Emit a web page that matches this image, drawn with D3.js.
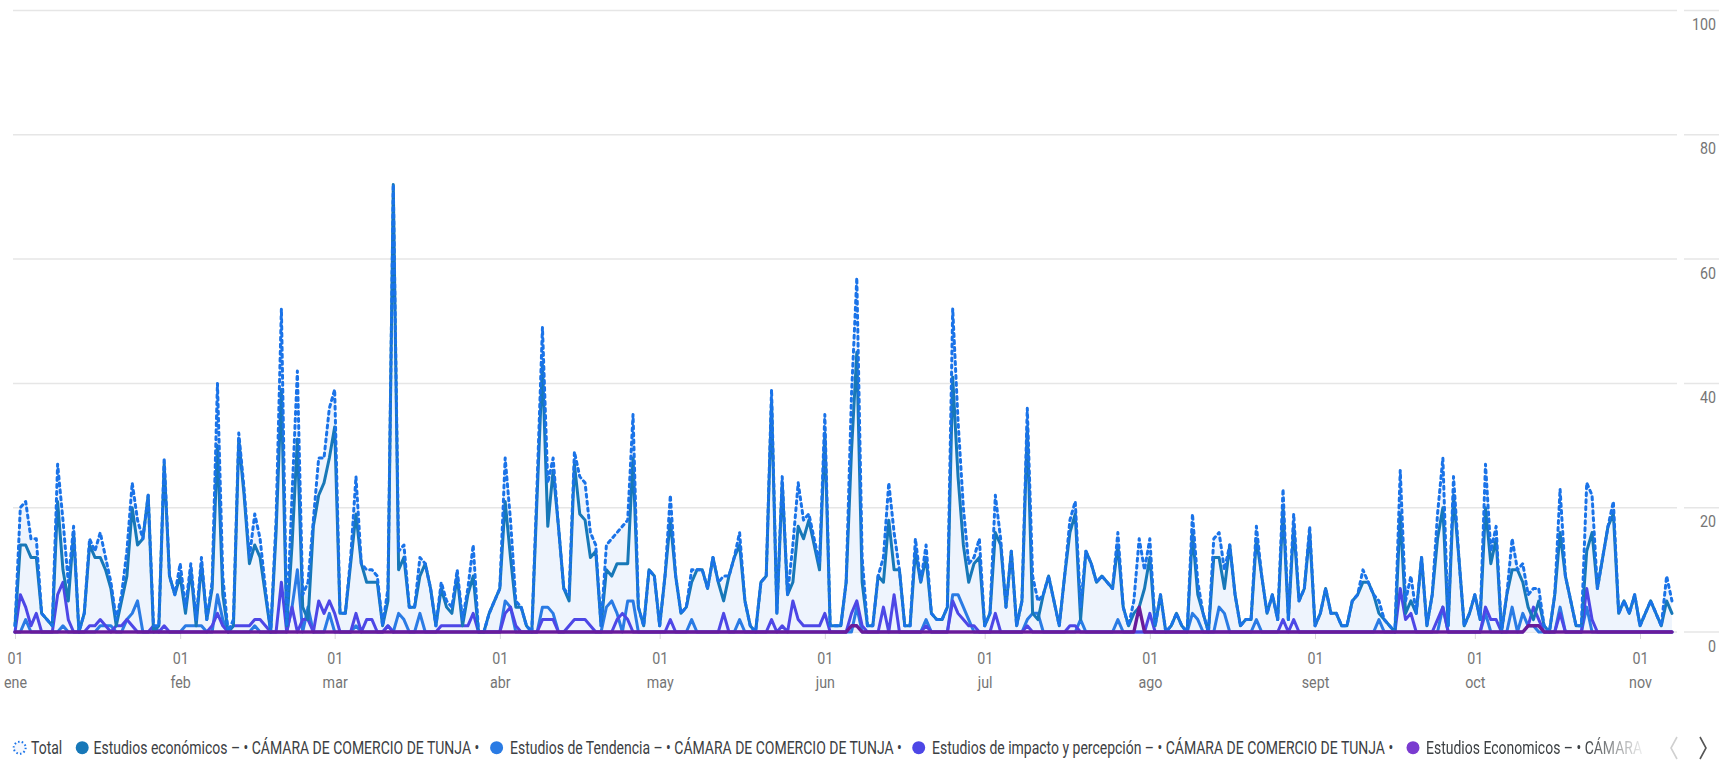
<!DOCTYPE html>
<html>
<head>
<meta charset="utf-8">
<script src="https://cdn.jsdelivr.net/npm/d3@7"></script>
<style>
  html, body { margin: 0; padding: 0; background: #fff; }
  svg { display: block; }
  text { font-family: Roboto, "Noto Sans", sans-serif; }
</style>
</head>
<body>
<svg id="chart" width="1719" height="761"></svg>
<script>
// Daily counts, 1 Jan 2024 onwards
const startUTC = Date.UTC(2024, 0, 1);

const total = [
  1,20,21,15,15,3,2,1,27,18,
  8,17,0,3,15,13,16,12,8,2,
  6,13,24,18,15,22,1,1,28,9,
  6,11,4,11,2,12,2,8,40,9,
  0,2,32,23,12,19,15,7,0,18,
  52,1,22,42,6,8,18,28,28,36,
  39,3,3,12,25,11,10,10,9,1,
  7,72,13,14,4,4,12,11,7,1,
  8,5,4,10,2,7,14,0,0,3,
  5,7,28,18,5,4,1,0,24,49,
  24,28,17,7,6,29,25,24,16,14,
  1,14,15,16,17,18,35,4,1,10,
  9,1,9,22,9,3,4,10,10,10,
  7,12,8,9,9,12,16,5,1,0,
  8,9,39,3,25,6,14,24,18,19,
  15,11,35,1,1,1,8,38,57,12,
  1,1,9,12,24,16,10,1,1,15,
  8,14,3,2,2,4,52,34,20,11,
  12,15,1,3,22,15,4,13,1,5,
  36,9,5,6,9,5,1,9,18,21,
  4,13,11,8,9,8,7,16,4,1,
  5,15,10,15,1,6,0,1,3,1,
  0,19,8,3,0,15,16,10,14,6,
  1,2,2,17,9,3,6,2,23,2,
  19,5,7,17,1,3,7,3,3,1,
  1,5,6,10,8,6,5,2,1,0,
  26,5,9,3,12,1,6,19,28,1,
  25,12,1,3,6,2,27,13,17,0,
  6,15,10,11,6,7,7,1,0,6,
  23,9,5,1,1,24,22,7,12,17,
  21,3,5,3,6,1,3,5,3,1,
  9,5
];

const estudiosEconomicos = [
  1,14,14,12,12,3,2,1,21,10,
  5,16,0,3,14,12,12,10,7,1,
  5,9,20,14,15,22,0,1,27,9,
  6,9,3,10,1,11,2,7,30,6,
  0,1,31,22,11,14,12,6,0,16,
  39,1,14,31,4,2,17,22,24,28,
  33,3,3,11,19,11,8,8,8,1,
  5,72,10,12,4,4,9,11,7,1,
  7,4,3,9,1,6,9,0,0,3,
  5,7,21,12,4,4,1,0,22,43,
  17,26,17,7,5,27,19,18,12,13,
  1,10,9,11,11,11,28,4,1,10,
  9,1,9,18,9,3,4,8,10,10,
  7,12,8,5,9,12,14,5,1,0,
  8,9,37,3,24,6,8,17,15,18,
  14,10,32,1,1,1,8,29,45,8,
  1,1,9,8,18,10,10,1,1,13,
  8,12,3,2,2,4,41,25,14,8,
  11,12,1,3,16,14,4,13,1,5,
  33,3,2,6,9,5,1,9,16,19,
  2,13,11,8,9,8,7,14,4,1,
  3,4,7,12,1,6,0,1,3,1,
  0,16,6,3,0,12,12,7,14,6,
  1,2,2,15,9,3,6,2,20,2,
  17,5,7,16,1,3,7,3,3,1,
  1,5,6,8,8,6,3,2,1,0,
  19,3,5,3,12,1,6,15,20,1,
  22,12,1,3,6,2,20,11,15,0,
  6,10,10,8,4,2,5,1,0,6,
  16,9,5,1,1,13,16,7,12,17,
  19,3,5,3,6,1,3,5,3,1,
  5,3
];

const estudiosTendencia = [
  0,0,2,0,0,0,0,0,0,1,
  0,0,0,0,0,0,1,1,1,0,
  0,2,3,5,0,0,0,0,0,0,
  0,0,1,1,1,1,0,0,6,2,
  0,0,0,0,0,1,0,0,0,0,
  0,0,4,10,0,4,0,0,0,3,
  0,0,0,0,1,0,0,0,0,0,
  1,0,3,2,0,0,3,0,0,0,
  0,0,0,0,0,0,0,0,0,0,
  0,0,5,4,0,0,0,0,0,4,
  4,3,0,0,0,0,0,0,0,0,
  0,4,5,3,0,5,5,0,0,0,
  0,0,0,0,0,0,0,2,0,0,
  0,0,0,0,0,0,2,0,0,0,
  0,0,0,0,0,0,0,0,0,0,
  0,0,0,0,0,0,0,0,4,0,
  0,0,0,0,0,0,0,0,0,0,
  0,2,0,0,0,0,6,6,4,2,
  0,0,0,0,0,0,0,0,0,0,
  2,3,3,0,0,0,0,0,0,0,
  2,0,0,0,0,0,0,2,0,0,
  0,0,0,0,0,0,0,0,0,0,
  0,3,2,0,0,0,4,3,0,0,
  0,0,0,2,0,0,0,0,0,0,
  0,0,0,0,0,0,0,0,0,0,
  0,0,0,0,0,0,2,0,0,0,
  0,0,0,0,0,0,0,0,4,0,
  0,0,0,0,0,0,3,0,0,0,
  0,4,0,3,1,1,0,0,0,0,
  4,0,0,0,0,4,0,0,0,0,
  0,0,0,0,0,0,0,0,0,0,
  0,0
];

const estudiosImpacto = [
  0,6,4,1,3,0,0,0,6,8,
  2,0,0,0,1,1,2,1,0,1,
  1,2,1,0,0,0,1,0,1,0,
  0,0,0,0,0,0,0,1,3,1,
  0,1,1,1,1,2,2,1,0,0,
  8,0,4,0,2,2,0,5,3,5,
  3,0,0,0,3,0,2,2,0,0,
  1,0,0,0,0,0,0,0,0,0,
  1,1,1,1,1,1,3,0,0,0,
  0,0,3,4,1,0,0,0,0,2,
  2,2,0,0,1,2,2,2,1,0,
  0,0,0,2,3,2,0,0,0,0,
  0,0,0,2,0,0,0,0,0,0,
  0,0,0,3,0,0,0,0,0,0,
  0,0,2,0,1,0,5,2,1,1,
  1,1,3,0,0,0,0,3,5,1,
  0,0,0,4,0,6,0,0,0,0,
  0,1,0,0,0,0,5,3,2,1,
  1,0,0,0,3,0,0,0,0,0,
  1,0,0,0,0,0,0,0,1,1,
  0,0,0,0,0,0,0,0,0,0,
  0,0,0,3,0,0,0,0,0,0,
  0,0,0,0,0,0,0,0,0,0,
  0,0,0,0,0,0,0,0,2,0,
  2,0,0,0,0,0,0,0,0,0,
  0,0,0,0,0,0,0,0,0,0,
  7,2,3,0,0,0,0,2,4,0,
  0,0,0,0,0,0,4,2,2,0,
  0,0,0,0,1,4,2,0,0,0,
  3,0,0,0,0,7,2,0,0,0,
  0,0,0,0,0,0,0,0,0,0,
  0,0
];

const estudiosEconomicosB = [
  0,0,0,0,0,0,0,0,0,0, 0,0,0,0,0,0,0,0,0,0,
  0,0,0,0,0,0,0,0,0,0, 0,0,0,0,0,0,0,0,0,0,
  0,0,0,0,0,0,0,0,0,0, 0,0,0,0,0,0,0,0,0,0,
  0,0,0,0,0,0,0,0,0,0, 0,0,0,0,0,0,0,0,0,0,
  0,0,0,0,0,0,0,0,0,0, 0,0,0,0,0,0,0,0,0,0,
  0,0,0,0,0,0,0,0,0,0, 0,0,0,0,0,0,0,0,0,0,
  0,0,0,0,0,0,0,0,0,0, 0,0,0,0,0,0,0,0,0,0,
  0,0,0,0,0,0,0,0,0,0,
  0,0,0,0,0,0,0,1,1,0,
  0,0,0,0,0,0,0,0,0,0, 0,0,0,0,0,0,0,0,0,0,
  0,0,0,0,0,0,0,0,0,0, 0,0,0,0,0,0,0,0,0,0,
  0,0,0,0,0,0,0,0,0,0,
  0,4,0,0,0,0,0,0,0,0,
  0,0,0,0,0,0,0,0,0,0, 0,0,0,0,0,0,0,0,0,0,
  0,0,0,0,0,0,0,0,0,0, 0,0,0,0,0,0,0,0,0,0,
  0,0,0,0,0,0,0,0,0,0, 0,0,0,0,0,0,0,0,0,0,
  0,0,0,0,1,1,1,0,0,0,
  0,0,0,0,0,0,0,0,0,0, 0,0,0,0,0,0,0,0,0,0,
  0,0
];

const yTickValues = [0, 20, 40, 60, 80, 100];
const monthLabels = ["ene", "feb", "mar", "abr", "may", "jun", "jul", "ago", "sept", "oct", "nov"];
const legendLabels = [
  "Total",
  "Estudios económicos – • CÁMARA DE COMERCIO DE TUNJA •",
  "Estudios de Tendencia – • CÁMARA DE COMERCIO DE TUNJA •",
  "Estudios de impacto y percepción – • CÁMARA DE COMERCIO DE TUNJA •",
  "Estudios Economicos – • CÁMARA"
];

const colors = {
  total: "#1a73e8",
  area: "#ecf3fd",
  economicos: "#1778b8",
  tendencia: "#2a7be4",
  impacto: "#4d47e6",
  economicosB: "#6a1b9a",
  economicosBLegend: "#7a3bd0",
  grid: "#e6e6e6",
  label: "#757575",
  legendText: "#3c4043"
};

const svg = d3.select("#chart");
const dates = d3.range(total.length).map(i => new Date(startUTC + i * 864e5));

const x = d3.scaleUtc()
  .domain([new Date(Date.UTC(2024, 0, 1)), new Date(Date.UTC(2024, 10, 1))])
  .range([15, 1640]);
const y = d3.scaleLinear().domain([0, 100]).range([632, 10.5]);

// gridlines: long plot segment + short segment under each value label
const grid = svg.append("g");
yTickValues.forEach(v => {
  grid.append("line").attr("x1", 13).attr("x2", 1677)
    .attr("y1", y(v)).attr("y2", y(v))
    .attr("stroke", colors.grid).attr("stroke-width", 1.5);
  grid.append("line").attr("x1", 1684).attr("x2", 1719)
    .attr("y1", y(v)).attr("y2", y(v))
    .attr("stroke", colors.grid).attr("stroke-width", 1.5);
});

const labelScaleX = 0.84;
// value labels on the right
const yLab = svg.append("g");
yTickValues.forEach(v => {
  yLab.append("text")
    .attr("transform", `translate(1716,${y(v) + 19.5}) scale(${labelScaleX},1)`)
    .attr("text-anchor", "end")
    .attr("font-size", 17)
    .attr("fill", colors.label)
    .text(v);
});

// month axis
const monthTicks = d3.utcMonth.range(new Date(Date.UTC(2024, 0, 1)), new Date(Date.UTC(2024, 10, 2)));
const xAxis = d3.axisBottom(x)
  .tickValues(monthTicks)
  .tickSizeInner(7)
  .tickSizeOuter(0)
  .tickFormat(() => "");
const gx = svg.append("g").attr("transform", `translate(0,${y(0)})`).call(xAxis);
gx.select(".domain").remove();
gx.selectAll(".tick line").attr("stroke", "#dadada").attr("stroke-width", 1);
gx.selectAll(".tick text").remove();
gx.selectAll(".tick").each(function (d, i) {
  const g = d3.select(this);
  g.append("text")
    .attr("transform", `translate(0,32) scale(${labelScaleX},1)`)
    .attr("text-anchor", "middle").attr("font-size", 17).attr("fill", colors.label)
    .text(d3.utcFormat("%d")(d));
  g.append("text")
    .attr("transform", `translate(0,56) scale(${labelScaleX},1)`)
    .attr("text-anchor", "middle").attr("font-size", 17).attr("fill", colors.label)
    .text(monthLabels[i]);
});

// series
const line = vals => d3.line()
  .x((d, i) => x(dates[i]))
  .y(d => y(d))(vals);

const area = d3.area()
  .x((d, i) => x(dates[i]))
  .y0(y(0))
  .y1(d => y(d));

svg.append("path").attr("d", area(total)).attr("fill", colors.area).attr("opacity", 0.9);

const plot = svg.append("g").attr("fill", "none").attr("stroke-linejoin", "round").attr("stroke-linecap", "round");
plot.append("path").attr("d", line(estudiosTendencia)).attr("stroke", colors.tendencia).attr("stroke-width", 3);
plot.append("path").attr("d", line(estudiosImpacto)).attr("stroke", colors.impacto).attr("stroke-width", 3);
plot.append("path").attr("d", line(estudiosEconomicos)).attr("stroke", colors.economicos).attr("stroke-width", 3);
plot.append("path").attr("d", line(total)).attr("stroke", colors.total).attr("stroke-width", 3)
  .attr("stroke-dasharray", "3,4").attr("stroke-linecap", "round");
plot.append("path").attr("d", line(estudiosEconomicosB)).attr("stroke", colors.economicosB).attr("stroke-width", 3.4);

// legend
const legendItems = [
  { key: "total", cx: 19.7, tx: 31 },
  { key: "economicos", cx: 82.2, tx: 93.5 },
  { key: "tendencia", cx: 496.6, tx: 510 },
  { key: "impacto", cx: 918.7, tx: 932 },
  { key: "economicosBLegend", cx: 1413, tx: 1426 }
];
const legendY = 747.7;
const legendFont = 19;
const defs = svg.append("defs");
const grad = defs.append("linearGradient").attr("id", "fadeGrad")
  .attr("gradientUnits", "userSpaceOnUse").attr("x1", 1585).attr("x2", 1648).attr("y1", 0).attr("y2", 0);
grad.append("stop").attr("offset", 0).attr("stop-color", "#fff");
grad.append("stop").attr("offset", 1).attr("stop-color", "#000");
defs.append("mask").attr("id", "fadeMask").attr("maskUnits", "userSpaceOnUse")
  .append("rect").attr("x", 0).attr("y", 720).attr("width", 1719).attr("height", 41).attr("fill", "url(#fadeGrad)");

const legend = svg.append("g");
// narrow the legend lettering to its condensed width
const probe = legend.append("text").attr("font-size", legendFont).text(legendLabels[1]);
const legendScaleX = 386 / probe.node().getComputedTextLength();
probe.remove();

legendItems.forEach((it, i) => {
  if (it.key === "total") {
    legend.append("circle").attr("cx", it.cx).attr("cy", legendY).attr("r", 6)
      .attr("fill", "#f4f7fd").attr("stroke", colors.total).attr("stroke-width", 2)
      .attr("stroke-dasharray", "1.5,2.2");
  } else {
    legend.append("circle").attr("cx", it.cx).attr("cy", legendY).attr("r", 6.5)
      .attr("fill", colors[it.key]);
  }
  const holder = i === 4 ? legend.append("g").attr("mask", "url(#fadeMask)") : legend;
  holder.append("text")
    .attr("transform", `translate(${it.tx},${legendY + 6.5}) scale(${legendScaleX},1)`)
    .attr("font-size", legendFont).attr("fill", colors.legendText)
    .text(legendLabels[i]);
});

// pager chevrons
legend.append("path").attr("d", "M1677,737 L1671,748 L1677,759")
  .attr("fill", "none").attr("stroke", "#d0d0d0").attr("stroke-width", 1.6);
legend.append("path").attr("d", "M1700,737 L1706,748 L1700,759")
  .attr("fill", "none").attr("stroke", "#555").attr("stroke-width", 1.6);
</script>
</body>
</html>
